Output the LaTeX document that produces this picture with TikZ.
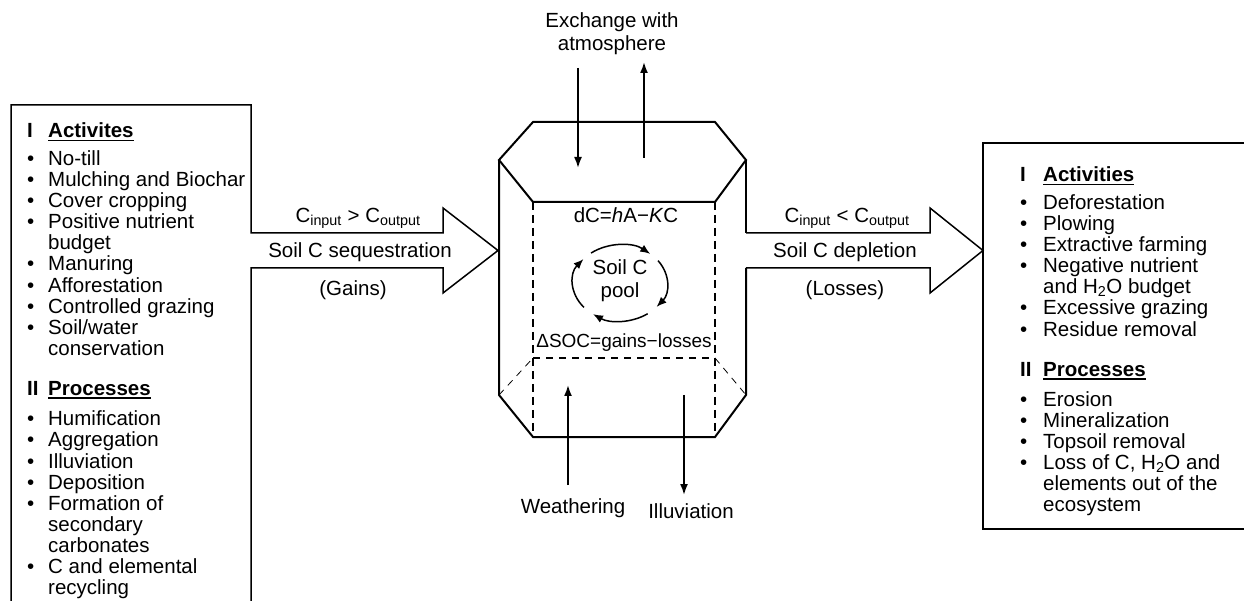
\documentclass[tikz,border=0pt]{standalone}
\usepackage{fontspec}
\setmainfont{Liberation Sans}
\usetikzlibrary{arrows.meta}
% underlined bold heading of a list
\newcommand{\headtext}[1]{\setbox0\hbox{\textbf{#1}}\rlap{\rule[-3.5pt]{\wd0}{1.8pt}}\box0}

\begin{document}
\begin{tikzpicture}[x=1pt,y=1pt]
    % Setup the styles
    \tikzset{text style/.style={inner sep=0pt, align=center,
                                font=\fontsize{20.5}{23}\selectfont},
             list style/.style={inner sep=0pt, anchor=base west,
                                font=\fontsize{20.5}{21}\selectfont},
             thick line/.style={line width=2pt, line join=miter},
             box line/.style={line width=1.5pt, line join=miter},
             dash line/.style={line width=1.8pt, dash pattern=on 8pt off 5pt},
             thin dash/.style={line width=0.8pt, dash pattern=on 7pt off 6pt},
             flow arrow/.style={line width=1.8pt, -{Latex[length=11pt,width=8pt]}},
             cycle arrow/.style={line width=1.5pt, -{Latex[length=10pt,width=8pt]}}}
    \useasboundingbox (0,0) rectangle (1244,600);

    % Left box with the gain arrow
    \draw[box line] (11,-10) -- (11,495) -- (251,495) -- (251,367) -- (443,367)
        -- (443,392) -- (498,349.5) -- (443,307) -- (443,332) -- (251,332) -- (251,-10);
    % Right box and the loss arrow
    \draw[box line] (983,71) rectangle (1260,457);
    \draw[box line] (746,367) -- (930,367) -- (930,392) -- (983,349.5)
        -- (930,307) -- (930,332) -- (746,332);

    % Draw the soil column
    \draw[thick line] (499,440) -- (533,478) -- (715,478) -- (746,440)
        -- (715,398) -- (533,398) -- cycle;
    \draw[thick line] (499,440) -- (499,205) -- (533,163) -- (715,163)
        -- (746,205) -- (746,332);
    \draw[thick line] (746,367) -- (746,440);
    \draw[dash line] (533,398) -- (533,163);
    \draw[dash line] (715,398) -- (715,163);
    \draw[thin dash, line width=1.3pt] (533,242) -- (715,242);
    \draw[thin dash] (499,205) -- (533,242);
    \draw[thin dash] (715,242) -- (746,205);

    % Texts of the column
    \node[text style] (exchange) at (612,566) {Exchange with\\atmosphere};
    \node[text style] (dc_eq) at (626,385) {dC=\textit{h}A−\textit{K}C};
    \node[text style] (pool) at (620,319) {Soil C\\pool};
    \node[text style, font=\fontsize{19}{21}\selectfont] (dsoc) at (624,257) {ΔSOC=gains−losses};
    \node[text style] (weathering) at (573,92) {Weathering};
    \node[text style] (illuviation) at (691,89) {Illuviation};

    % Ends of the vertical arrows
    \coordinate (atm_in_a)  at (578,532);
    \coordinate (atm_in_b)  at (578,432);
    \coordinate (atm_out_a) at (644,442);
    \coordinate (atm_out_b) at (644,538);
    \coordinate (weath_a)   at (568,115);
    \coordinate (weath_b)   at (568,215);
    \coordinate (illuv_a)   at (684,205);
    \coordinate (illuv_b)   at (684,105);
    \draw[flow arrow] (atm_in_a) -- (atm_in_b);
    \draw[flow arrow] (atm_out_a) -- (atm_out_b);
    \draw[flow arrow] (weath_a) -- (weath_b);
    \draw[flow arrow] (illuv_a) -- (illuv_b);

    % Cycle round the pool
    \coordinate (pool_c) at (620,317);
    \draw[cycle arrow] (pool_c) ++(220:47 and 38) arc[start angle=220, end angle=141, x radius=47, y radius=38];
    \draw[cycle arrow] (pool_c) ++(128:47 and 38) arc[start angle=128, end angle=50, x radius=47, y radius=38];
    \draw[cycle arrow] (pool_c) ++(36:47 and 38) arc[start angle=36, end angle=-39, x radius=47, y radius=38];
    \draw[cycle arrow] (pool_c) ++(-54:47 and 38) arc[start angle=-54, end angle=-125, x radius=47, y radius=38];

    % Labels of the two arrows
    \node[text style] (gain_cond) at (358,382) {C\textsubscript{input} > C\textsubscript{output}};
    \node[text style] (gain_name) at (360,348) {Soil C sequestration};
    \node[text style] (gain_note) at (353,310) {(Gains)};
    \node[text style] (loss_cond) at (847,382) {C\textsubscript{input} < C\textsubscript{output}};
    \node[text style] (loss_name) at (845,348) {Soil C depletion};
    \node[text style] (loss_note) at (845,310) {(Losses)};

    % Lists in the boxes
    \node[list style] (gain_list) at (27,462) {%
        \begin{tabular}[t]{@{}p{21pt}@{}l@{}}
        \textbf{I} & \headtext{Activites}\\[6pt]
        \textbullet & No-till\\
        \textbullet & Mulching and Biochar\\
        \textbullet & Cover cropping\\
        \textbullet & Positive nutrient\\
                    & budget\\
        \textbullet & Manuring\\
        \textbullet & Afforestation\\
        \textbullet & Controlled grazing\\
        \textbullet & Soil/water\\
                    & conservation\\[19pt]
        \textbf{II} & \headtext{Processes}\\[9pt]
        \textbullet & Humification\\
        \textbullet & Aggregation\\
        \textbullet & Illuviation\\
        \textbullet & Deposition\\
        \textbullet & Formation of\\
                    & secondary\\
                    & carbonates\\
        \textbullet & C and elemental\\
                    & recycling
        \end{tabular}};
    \node[list style] (loss_list) at (1020,418) {%
        \begin{tabular}[t]{@{}p{23pt}@{}l@{}}
        \textbf{I} & \headtext{Activities}\\[6pt]
        \textbullet & Deforestation\\
        \textbullet & Plowing\\
        \textbullet & Extractive farming\\
        \textbullet & Negative nutrient\\
                    & and H\textsubscript{2}O budget\\
        \textbullet & Excessive grazing\\
        \textbullet & Residue removal\\[19pt]
        \textbf{II} & \headtext{Processes}\\[9pt]
        \textbullet & Erosion\\
        \textbullet & Mineralization\\
        \textbullet & Topsoil removal\\
        \textbullet & Loss of C, H\textsubscript{2}O and\\
                    & elements out of the\\
                    & ecosystem
        \end{tabular}};
\end{tikzpicture}
\end{document}
